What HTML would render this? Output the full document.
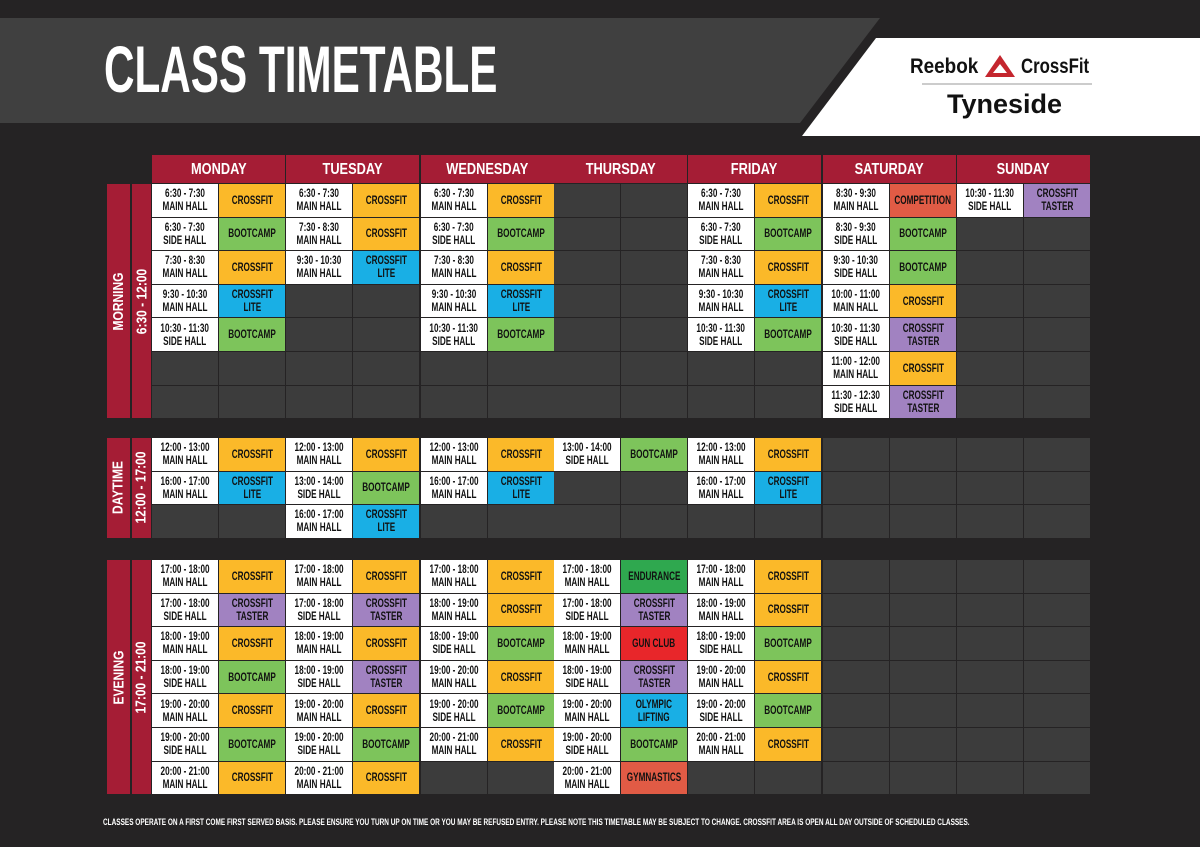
<!DOCTYPE html>
<html><head><meta charset="utf-8">
<style>
body{margin:0;width:1200px;height:847px;background:#252324;overflow:hidden;position:relative;font-family:"Liberation Sans",sans-serif;font-weight:bold}
.a{position:absolute;box-sizing:border-box}
.c{display:flex;align-items:center;justify-content:center;text-align:center;font-size:12px;line-height:13px;color:#111;overflow:hidden}
.c span.t{display:inline-block;white-space:nowrap;transform:scaleX(0.68)}
.h{background:#a51d35;color:#fff;font-size:16px}
.v{color:#fff;font-size:15px;white-space:nowrap;display:inline-block}
</style></head><body>
<svg class="a" style="left:0;top:0" width="1200" height="847">
<polygon points="0,18 880,18 800,123 0,123" fill="#404040"/>
<polygon points="876,38 1200,38 1200,136 802,136" fill="#fff"/>
<line x1="922" y1="84" x2="1092" y2="84" stroke="#999" stroke-width="1"/>
<polygon points="1000,55 985,77 1015,77" fill="#c4262e"/>
<polygon points="1000,64 993,73 1007,73" fill="#fff"/>
</svg>
<div class="a" style="left:104px;top:34px;color:#fff;font-size:66px;line-height:70px;white-space:nowrap;transform:scaleX(0.64);transform-origin:left">CLASS TIMETABLE</div>
<div class="a" style="left:910px;top:55px;font-size:21px;color:#111;transform:scaleX(0.9);transform-origin:left">Reebok</div>
<div class="a" style="left:1021px;top:55px;font-size:21px;color:#111;transform:scaleX(0.8);transform-origin:left">CrossFit</div>
<div class="a" style="left:947px;top:89px;font-size:27px;color:#111">Tyneside</div>
<div class="a" style="left:103px;top:817px;color:#fff;font-size:9.5px;white-space:nowrap;transform:scaleX(0.68);transform-origin:left">CLASSES OPERATE ON A FIRST COME FIRST SERVED BASIS. PLEASE ENSURE YOU TURN UP ON TIME OR YOU MAY BE REFUSED ENTRY. PLEASE NOTE THIS TIMETABLE MAY BE SUBJECT TO CHANGE. CROSSFIT AREA IS OPEN ALL DAY OUTSIDE OF SCHEDULED CLASSES.</div>
<div id="g"></div>
<script>
const days=["MONDAY","TUESDAY","WEDNESDAY","THURSDAY","FRIDAY","SATURDAY","SUNDAY"];
const dayX=[152,286,421,554,688,823,957];
const colors={"CROSSFIT":"#fbb929","BOOTCAMP":"#7dc45b","CROSSFIT LITE":"#19afe5","CROSSFIT TASTER":"#a182c1","COMPETITION":"#e15b45","ENDURANCE":"#2fa84f","GUN CLUB":"#e8262a","OLYMPIC LIFTING":"#19afe5","GYMNASTICS":"#e15b45"};
const labels={"CROSSFIT":"CROSSFIT","BOOTCAMP":"BOOTCAMP","CROSSFIT LITE":"CROSSFIT<br>LITE","CROSSFIT TASTER":"CROSSFIT<br>TASTER","COMPETITION":"COMPETITION","ENDURANCE":"ENDURANCE","GUN CLUB":"GUN CLUB","OLYMPIC LIFTING":"OLYMPIC<br>LIFTING","GYMNASTICS":"GYMNASTICS"};
const M="MAIN HALL",S="SIDE HALL";
const sections=[
{name:"MORNING",range:"6:30 - 12:00",y:184,rows:7,data:[
[["6:30 - 7:30",M,"CROSSFIT"],["6:30 - 7:30",S,"BOOTCAMP"],["7:30 - 8:30",M,"CROSSFIT"],["9:30 - 10:30",M,"CROSSFIT LITE"],["10:30 - 11:30",S,"BOOTCAMP"]],
[["6:30 - 7:30",M,"CROSSFIT"],["7:30 - 8:30",M,"CROSSFIT"],["9:30 - 10:30",M,"CROSSFIT LITE"]],
[["6:30 - 7:30",M,"CROSSFIT"],["6:30 - 7:30",S,"BOOTCAMP"],["7:30 - 8:30",M,"CROSSFIT"],["9:30 - 10:30",M,"CROSSFIT LITE"],["10:30 - 11:30",S,"BOOTCAMP"]],
[],
[["6:30 - 7:30",M,"CROSSFIT"],["6:30 - 7:30",S,"BOOTCAMP"],["7:30 - 8:30",M,"CROSSFIT"],["9:30 - 10:30",M,"CROSSFIT LITE"],["10:30 - 11:30",S,"BOOTCAMP"]],
[["8:30 - 9:30",M,"COMPETITION"],["8:30 - 9:30",S,"BOOTCAMP"],["9:30 - 10:30",S,"BOOTCAMP"],["10:00 - 11:00",M,"CROSSFIT"],["10:30 - 11:30",S,"CROSSFIT TASTER"],["11:00 - 12:00",M,"CROSSFIT"],["11:30 - 12:30",S,"CROSSFIT TASTER"]],
[["10:30 - 11:30",S,"CROSSFIT TASTER"]]]},
{name:"DAYTIME",range:"12:00 - 17:00",y:438,rows:3,data:[
[["12:00 - 13:00",M,"CROSSFIT"],["16:00 - 17:00",M,"CROSSFIT LITE"]],
[["12:00 - 13:00",M,"CROSSFIT"],["13:00 - 14:00",S,"BOOTCAMP"],["16:00 - 17:00",M,"CROSSFIT LITE"]],
[["12:00 - 13:00",M,"CROSSFIT"],["16:00 - 17:00",M,"CROSSFIT LITE"]],
[["13:00 - 14:00",S,"BOOTCAMP"]],
[["12:00 - 13:00",M,"CROSSFIT"],["16:00 - 17:00",M,"CROSSFIT LITE"]],[],[]]},
{name:"EVENING",range:"17:00 - 21:00",y:560,rows:7,data:[
[["17:00 - 18:00",M,"CROSSFIT"],["17:00 - 18:00",S,"CROSSFIT TASTER"],["18:00 - 19:00",M,"CROSSFIT"],["18:00 - 19:00",S,"BOOTCAMP"],["19:00 - 20:00",M,"CROSSFIT"],["19:00 - 20:00",S,"BOOTCAMP"],["20:00 - 21:00",M,"CROSSFIT"]],
[["17:00 - 18:00",M,"CROSSFIT"],["17:00 - 18:00",S,"CROSSFIT TASTER"],["18:00 - 19:00",M,"CROSSFIT"],["18:00 - 19:00",S,"CROSSFIT TASTER"],["19:00 - 20:00",M,"CROSSFIT"],["19:00 - 20:00",S,"BOOTCAMP"],["20:00 - 21:00",M,"CROSSFIT"]],
[["17:00 - 18:00",M,"CROSSFIT"],["18:00 - 19:00",M,"CROSSFIT"],["18:00 - 19:00",S,"BOOTCAMP"],["19:00 - 20:00",M,"CROSSFIT"],["19:00 - 20:00",S,"BOOTCAMP"],["20:00 - 21:00",M,"CROSSFIT"]],
[["17:00 - 18:00",M,"ENDURANCE"],["17:00 - 18:00",S,"CROSSFIT TASTER"],["18:00 - 19:00",M,"GUN CLUB"],["18:00 - 19:00",S,"CROSSFIT TASTER"],["19:00 - 20:00",M,"OLYMPIC LIFTING"],["19:00 - 20:00",S,"BOOTCAMP"],["20:00 - 21:00",M,"GYMNASTICS"]],
[["17:00 - 18:00",M,"CROSSFIT"],["18:00 - 19:00",M,"CROSSFIT"],["18:00 - 19:00",S,"BOOTCAMP"],["19:00 - 20:00",M,"CROSSFIT"],["19:00 - 20:00",S,"BOOTCAMP"],["20:00 - 21:00",M,"CROSSFIT"]],[],[]]}];
const g=document.getElementById('g');
function box(x,y,w,h,bg,html,cls){const d=document.createElement('div');d.className='a c '+(cls||'');d.style.cssText=`left:${x}px;top:${y}px;width:${w}px;height:${h}px;background:${bg}`;d.innerHTML=html;g.appendChild(d);return d;}
const RH=33.6;
days.forEach((d,i)=>{const e=box(dayX[i],155,133,28,'#a51d35','<span style="transform:scaleX(.8);display:inline-block">'+d+'</span>','h');

});
sections.forEach(s=>{
 const h=s.rows*RH-1;
 const b1=box(107,s.y,23,h,'#a51d35','<span class="v" style="transform:rotate(-90deg) scaleX(0.8)">'+s.name+'</span>');
 
 
 const b2=box(132,s.y,19,h,'#a51d35','<span class="v" style="transform:rotate(-90deg) scaleX(0.8)">'+s.range+'</span>');
 
 
 s.data.forEach((col,di)=>{
  for(let r=0;r<s.rows;r++){
   const y=s.y+r*RH, x=dayX[di], it=col[r];
   let t,c;
   if(it){
    t=box(x,y,66,RH-1,'#fff','<span class="t">'+it[0]+'<br>'+it[1]+'</span>');
    c=box(x+67,y,66,RH-1,colors[it[2]],'<span class="t">'+labels[it[2]]+'</span>');
   } else {
    t=box(x,y,66,RH-1,'#3c3c3c','');
    c=box(x+67,y,66,RH-1,'#3c3c3c','');
   }
   
   
   
   
  }
 });
});
</script>
</body></html>
